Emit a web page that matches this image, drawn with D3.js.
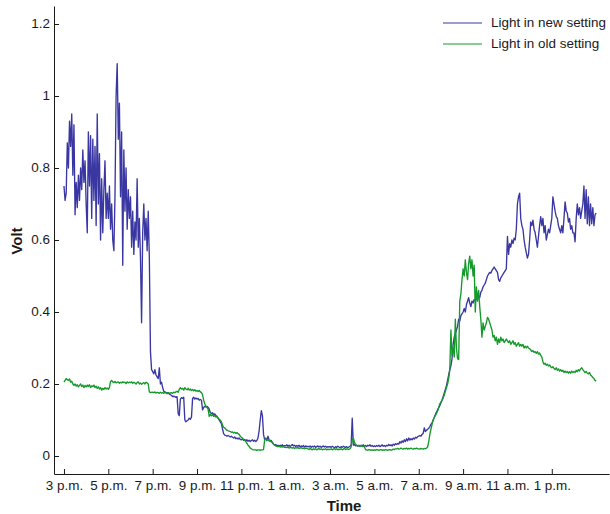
<!DOCTYPE html>
<html><head><meta charset="utf-8">
<script src="https://cdn.jsdelivr.net/npm/d3@7"></script>
<style>
body{margin:0;background:#fff}
svg{display:block}
text{font-family:"Liberation Sans",Arial,Helvetica,sans-serif;fill:#1a1a1a}
</style>
</head><body>
<svg id="c" width="610" height="514"></svg>
<script>
// ---- data (hours after 3 p.m., volt) ----
const tickHours = [0,2,4,6,8,10,12,14,16,18,20,22];
const tickLabels = ["3 p.m.","5 p.m.","7 p.m.","9 p.m.","11 p.m.","1 a.m.","3 a.m.","5 a.m.","7 a.m.","9 a.m.","11 a.m.","1 p.m."];
const yTicks = [0,0.2,0.4,0.6,0.8,1,1.2];
const yTickLabels = ["0","0.2","0.4","0.6","0.8","1","1.2"];
const seriesNames = ["Light in new setting","Light in old setting"];
const sampleStepHours = 0.05;

const blueVolt = [
0.75,0.71,0.73,0.87,0.80,0.93,0.86,0.95,0.78,0.92,0.67,0.76,0.69,0.78,0.71,0.80,0.74,0.85,0.76,0.82,
0.70,0.62,0.90,0.75,0.89,0.66,0.88,0.71,0.86,0.64,0.95,0.70,0.84,0.60,0.77,0.62,0.74,0.82,0.66,0.73,
0.66,0.75,0.63,0.70,0.60,0.57,0.72,1.00,1.09,0.88,0.98,0.72,0.90,0.53,0.85,0.68,0.80,0.63,0.74,0.66,
0.72,0.58,0.68,0.56,0.65,0.60,0.77,0.58,0.66,0.55,0.37,0.62,0.70,0.60,0.66,0.57,0.68,0.55,0.29,0.24,
0.235,0.228,0.24,0.225,0.22,0.215,0.245,0.2,0.205,0.19,0.18,0.178,0.176,0.175,0.176,0.172,0.17,0.168,0.165,0.166,
0.165,0.163,0.165,0.118,0.112,0.158,0.162,0.16,0.163,0.1,0.095,0.098,0.1,0.105,0.102,0.108,0.16,0.163,0.158,0.161,
0.158,0.16,0.155,0.157,0.155,0.128,0.135,0.138,0.136,0.138,0.135,0.13,0.12,0.118,0.12,0.115,0.117,0.112,0.11,0.105,
0.1,0.095,0.09,0.075,0.062,0.058,0.057,0.055,0.057,0.055,0.053,0.055,0.052,0.05,0.053,0.048,0.05,0.047,0.05,0.046,
0.045,0.048,0.043,0.046,0.042,0.045,0.041,0.044,0.04,0.043,0.045,0.041,0.044,0.04,0.043,0.05,0.07,0.1,0.126,0.112,
0.06,0.045,0.05,0.042,0.055,0.045,0.04,0.043,0.038,0.033,0.03,0.032,0.028,0.03,0.027,0.03,0.028,0.031,0.027,0.029,
0.028,0.031,0.027,0.03,0.026,0.029,0.032,0.028,0.03,0.026,0.029,0.027,0.03,0.025,0.028,0.026,0.029,0.025,0.028,0.026,
0.027,0.025,0.028,0.024,0.027,0.025,0.028,0.024,0.026,0.028,0.025,0.027,0.024,0.026,0.028,0.025,0.027,0.024,0.026,0.025,
0.026,0.024,0.027,0.025,0.023,0.026,0.024,0.027,0.025,0.023,0.026,0.024,0.027,0.025,0.024,0.026,0.023,0.025,0.027,0.03,
0.105,0.03,0.032,0.028,0.03,0.027,0.029,0.026,0.03,0.028,0.031,0.027,0.029,0.026,0.03,0.028,0.031,0.027,0.029,0.026,
0.028,0.026,0.029,0.027,0.03,0.026,0.028,0.031,0.027,0.029,0.026,0.03,0.028,0.032,0.029,0.031,0.028,0.033,0.03,0.034,
0.032,0.035,0.033,0.04,0.036,0.042,0.038,0.045,0.04,0.048,0.042,0.05,0.044,0.048,0.045,0.05,0.047,0.052,0.05,0.054,
0.055,0.057,0.055,0.06,0.063,0.078,0.068,0.072,0.074,0.077,0.082,0.088,0.092,0.1,0.107,0.115,0.122,0.128,0.134,0.14,
0.148,0.155,0.165,0.175,0.185,0.195,0.21,0.225,0.24,0.25,0.27,0.31,0.33,0.34,0.35,0.36,0.38,0.375,0.39,0.395,
0.4,0.41,0.4,0.42,0.43,0.44,0.425,0.415,0.43,0.425,0.435,0.43,0.44,0.435,0.445,0.44,0.455,0.46,0.47,0.475,
0.48,0.49,0.5,0.505,0.51,0.508,0.515,0.52,0.525,0.52,0.515,0.51,0.49,0.485,0.495,0.5,0.505,0.51,0.515,0.52,
0.61,0.56,0.59,0.58,0.6,0.59,0.605,0.6,0.63,0.7,0.72,0.73,0.66,0.64,0.63,0.6,0.58,0.565,0.55,0.56,
0.6,0.65,0.64,0.655,0.63,0.62,0.6,0.58,0.61,0.64,0.665,0.64,0.66,0.62,0.64,0.6,0.615,0.63,0.62,0.64,
0.66,0.72,0.7,0.68,0.665,0.66,0.64,0.63,0.62,0.64,0.62,0.66,0.706,0.68,0.675,0.65,0.66,0.63,0.64,0.62,
0.62,0.595,0.66,0.7,0.67,0.69,0.66,0.68,0.7,0.75,0.66,0.74,0.645,0.72,0.64,0.7,0.645,0.69,0.64,0.67,
0.675
];

const greenVolt = [
0.205,0.21,0.215,0.212,0.21,0.214,0.205,0.208,0.2,0.196,0.2,0.194,0.198,0.192,0.196,0.2,0.193,0.197,0.19,0.196,
0.192,0.197,0.193,0.198,0.19,0.195,0.193,0.197,0.19,0.194,0.188,0.192,0.186,0.19,0.183,0.188,0.185,0.19,0.186,0.189,
0.185,0.19,0.207,0.21,0.206,0.204,0.207,0.203,0.205,0.206,0.202,0.205,0.203,0.206,0.204,0.205,0.201,0.206,0.203,0.205,
0.204,0.206,0.202,0.205,0.203,0.2,0.204,0.206,0.2,0.203,0.199,0.202,0.204,0.2,0.205,0.203,0.2,0.178,0.176,0.177,
0.177,0.176,0.178,0.175,0.177,0.176,0.174,0.177,0.175,0.176,0.174,0.177,0.175,0.173,0.176,0.174,0.175,0.176,0.174,0.177,
0.176,0.178,0.18,0.177,0.185,0.19,0.186,0.188,0.183,0.19,0.186,0.184,0.188,0.183,0.186,0.182,0.185,0.181,0.184,0.18,
0.182,0.179,0.182,0.178,0.176,0.17,0.155,0.145,0.138,0.135,0.13,0.11,0.115,0.112,0.115,0.11,0.112,0.108,0.11,0.105,
0.102,0.1,0.095,0.085,0.08,0.078,0.074,0.072,0.07,0.069,0.068,0.066,0.067,0.064,0.066,0.063,0.065,0.062,0.06,0.055,
0.052,0.05,0.045,0.043,0.04,0.035,0.03,0.027,0.022,0.02,0.018,0.017,0.017,0.017,0.016,0.017,0.017,0.016,0.017,0.017,
0.018,0.045,0.048,0.044,0.046,0.042,0.044,0.04,0.036,0.033,0.03,0.028,0.027,0.026,0.027,0.025,0.026,0.025,0.026,0.024,
0.024,0.023,0.025,0.022,0.024,0.023,0.022,0.024,0.021,0.023,0.022,0.024,0.021,0.022,0.023,0.021,0.022,0.02,0.022,0.021,
0.02,0.018,0.021,0.019,0.017,0.02,0.018,0.02,0.017,0.019,0.021,0.018,0.02,0.017,0.019,0.018,0.02,0.017,0.019,0.018,
0.018,0.02,0.017,0.019,0.021,0.018,0.02,0.017,0.019,0.018,0.02,0.017,0.019,0.021,0.018,0.02,0.019,0.018,0.02,0.025,
0.045,0.05,0.038,0.032,0.03,0.028,0.03,0.027,0.029,0.026,0.028,0.025,0.018,0.017,0.016,0.018,0.017,0.016,0.017,0.016,
0.017,0.016,0.018,0.017,0.016,0.017,0.018,0.016,0.017,0.016,0.018,0.017,0.016,0.017,0.018,0.016,0.017,0.019,0.018,0.02,
0.02,0.021,0.019,0.02,0.022,0.02,0.019,0.021,0.02,0.022,0.019,0.021,0.02,0.022,0.02,0.019,0.021,0.02,0.022,0.02,
0.02,0.019,0.021,0.02,0.019,0.021,0.02,0.022,0.025,0.04,0.06,0.075,0.088,0.1,0.108,0.112,0.118,0.125,0.135,0.145,
0.15,0.155,0.16,0.17,0.18,0.19,0.2,0.215,0.24,0.35,0.28,0.3,0.275,0.38,0.3,0.27,0.268,0.43,0.45,0.49,
0.52,0.5,0.545,0.51,0.49,0.535,0.555,0.52,0.545,0.5,0.53,0.4,0.47,0.43,0.46,0.415,0.38,0.33,0.37,0.35,
0.36,0.37,0.385,0.38,0.37,0.36,0.35,0.33,0.335,0.32,0.33,0.31,0.325,0.315,0.33,0.32,0.325,0.315,0.32,0.325,
0.32,0.315,0.32,0.31,0.315,0.32,0.31,0.315,0.305,0.31,0.315,0.305,0.31,0.305,0.31,0.3,0.305,0.3,0.305,0.3,
0.298,0.295,0.29,0.293,0.288,0.29,0.285,0.29,0.283,0.286,0.28,0.275,0.262,0.255,0.258,0.252,0.255,0.25,0.253,0.248,
0.245,0.248,0.243,0.24,0.245,0.238,0.242,0.236,0.24,0.235,0.238,0.232,0.236,0.232,0.235,0.23,0.234,0.23,0.236,0.232,
0.235,0.232,0.238,0.234,0.24,0.236,0.242,0.245,0.24,0.236,0.232,0.235,0.23,0.228,0.232,0.225,0.222,0.218,0.215,0.21,
0.208
];

const colors = ["#3a37a2","#14992a"];

// ---- chart ----
const svg = d3.select("#c");
const x = d3.scaleLinear().domain([-0.45, 24.58]).range([54, 609]);
const y = d3.scaleLinear().domain([-0.05, 1.25]).range([474, 6]);
const TEXT_STRETCH = 1.12;

const line = d3.line()
  .x((d, i) => x(i * sampleStepHours))
  .y(d => y(d));

[blueVolt, greenVolt].forEach((vals, k) => {
  svg.append("path")
    .datum(vals)
    .attr("fill", "none")
    .attr("stroke", colors[k])
    .attr("stroke-width", 1.35)
    .attr("stroke-linejoin", "round")
    .attr("d", line);
});

// axes
const xAxis = d3.axisBottom(x)
  .tickValues(tickHours)
  .tickFormat((d, i) => tickLabels[i])
  .tickSizeInner(-5).tickSizeOuter(0).tickPadding(7.5);
const gx = svg.append("g").attr("transform", "translate(0,474)").call(xAxis);

const yAxis = d3.axisLeft(y)
  .tickValues(yTicks)
  .tickFormat((d, i) => yTickLabels[i])
  .tickSizeInner(-5).tickSizeOuter(0).tickPadding(4);
const gy = svg.append("g").attr("transform", "translate(54,0)").call(yAxis);

[gx, gy].forEach(g => {
  g.select(".domain").attr("stroke", "#1a1a1a");
  g.selectAll(".tick line").attr("stroke", "#1a1a1a");
  g.selectAll(".tick text")
    .attr("font-size", 12)
    .attr("font-family", '"Liberation Sans",Arial,sans-serif')
    .attr("fill", "#1a1a1a")
    .attr("transform", `scale(${TEXT_STRETCH},1)`);
});
gx.selectAll(".tick text").attr("x", 0);
gy.selectAll(".tick text").attr("x", -4 / TEXT_STRETCH);

// axis titles
svg.append("text")
  .attr("x", 344).attr("y", 511)
  .attr("text-anchor", "middle")
  .attr("font-size", 15).attr("font-weight", "bold")
  .text("Time");
svg.append("text")
  .attr("transform", "translate(22,241) rotate(-90)")
  .attr("text-anchor", "middle")
  .attr("font-size", 15).attr("font-weight", "bold")
  .text("Volt");

// legend
const legendY = [23, 44];
seriesNames.forEach((name, k) => {
  svg.append("line")
    .attr("x1", 443).attr("x2", 482)
    .attr("y1", legendY[k]).attr("y2", legendY[k])
    .attr("stroke", colors[k]).attr("stroke-width", 1.1);
  svg.append("text")
    .attr("transform", `translate(491,${legendY[k] + 4.3}) scale(${TEXT_STRETCH},1)`)
    .attr("font-size", 12)
    .text(name);
});
</script>
</body></html>
